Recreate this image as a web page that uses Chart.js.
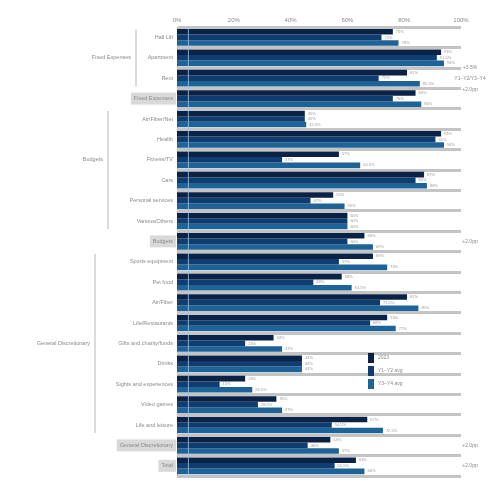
<!DOCTYPE html>
<html><head><meta charset="utf-8">
<script src="https://cdn.jsdelivr.net/npm/chart.js@4"></script>
<style>html,body{margin:0;padding:0;background:#fff}#wrap{width:500px;height:500px}</style>
</head><body><div id="wrap"><canvas id="c" width="500" height="500"></canvas></div>
<script>
const categories = ["Hall Lift","Apartment","Rent","Fixed Expenses","Air/Fiber/Net","Health","Fitness/TV","Cars","Personal services","Various/Others","Budgets","Sports equipment","Pet food","Air/Fiber","Life/Restaurants","Gifts and charity/funds","Drinks","Sights and experiences","Video games","Life and leisure","General Discretionary","Total"];
const seriesNames = ["2023","Y1–Y2 avg","Y3–Y4 avg"];
const series1 = [76,93,81,84,45,93,57,87,55,60,66,69,58,81,74,34,44,24,35,67,54,63];
const series2 = [72,91.5,71,76,45,91,37,84,47,60,60,57,48,71.5,68,24,44,15,28.5,54.5,46,55.5];
const series3 = [78,94,85.5,86,45.5,94,64.5,88,59,60,69,74,61.5,85,77,37,44,26.5,37,72.5,57,66];
const totalRows = [3,10,20,21];
const groups = [
  {label:"Fixed Expenses", from:0, to:2, lineX:136, labelRow:1},
  {label:"Budgets", from:4, to:9, lineX:108, labelRow:6},
  {label:"General Discretionary", from:11, to:19, lineX:95, labelRow:15}
];
const sideNotes = [
  {row:2, lines:["+3.5%","Y1–Y2/Y3–Y4","+2.0pp"]},
  {row:10, lines:["+2.0pp"]},
  {row:20, lines:["+2.0pp"]},
  {row:21, lines:["+2.0pp"]}
];
const colors = ["#0a2246","#0f3d6f","#1e6398"];
const FONT = "Liberation Sans, Arial, sans-serif";

const sidePlugin = {
  id:'side',
  beforeDraw(chart){
    const ctx = chart.ctx, y = chart.scales.y;
    ctx.save();
    ctx.font = "5.5px " + FONT;
    totalRows.forEach(i=>{
      const w = ctx.measureText(categories[i]).width;
      const py = y.getPixelForValue(i);
      ctx.fillStyle = "#d9d9d9";
      ctx.fillRect(173 - w - 3, py - 6, w + 6, 12);
    });
    ctx.restore();
  },
  afterDraw(chart){
    const ctx = chart.ctx, y = chart.scales.y, x = chart.scales.x;
    ctx.save();
    ctx.strokeStyle = "rgba(160,200,235,0.8)";
    ctx.lineWidth = 1;
    const rx = x.getPixelForValue(4);
    ctx.beginPath(); ctx.moveTo(rx, chart.chartArea.top); ctx.lineTo(rx, chart.chartArea.bottom); ctx.stroke();
    ctx.strokeStyle = "#cfcfcf"; ctx.lineWidth = 1.5;
    ctx.fillStyle = "#8a8a8a"; ctx.font = "5.5px " + FONT;
    ctx.textAlign = "right"; ctx.textBaseline = "middle";
    groups.forEach(g=>{
      const t = y.getPixelForValue(g.from) - 8, b = y.getPixelForValue(g.to) + 8;
      ctx.beginPath(); ctx.moveTo(g.lineX, t); ctx.lineTo(g.lineX, b); ctx.stroke();
      ctx.fillText(g.label, g.lineX - 5, y.getPixelForValue(g.labelRow));
    });
    ctx.font = "4px " + FONT; ctx.textAlign = "left"; ctx.fillStyle = "#9a9a9a";
    chart.data.datasets.forEach((ds, di)=>{
      chart.getDatasetMeta(di).data.forEach((bar, i)=>{
        ctx.fillText(ds.data[i] + "%", bar.x + 3, bar.y);
      });
    });
    ctx.font = "5px " + FONT; ctx.textAlign = "center"; ctx.fillStyle = "#8a8a8a";
    sideNotes.forEach(n=>{
      const py = y.getPixelForValue(n.row);
      const start = py - (n.lines.length - 1) * 5.5;
      n.lines.forEach((l, k)=> ctx.fillText(l, 470, start + k * 11));
    });
    ctx.textAlign = "left"; ctx.font = "5px " + FONT;
    seriesNames.forEach((s, k)=>{
      const ly = 358 + k * 13;
      ctx.fillStyle = colors[k]; ctx.fillRect(368, ly - 5, 6, 10);
      ctx.fillStyle = "#8a8a8a"; ctx.fillText(s, 378, ly);
    });
    ctx.restore();
  }
};

new Chart(document.getElementById('c'), {
  type:'bar',
  data:{
    labels: categories,
    datasets: [series1, series2, series3].map((d, k)=>({
      label: seriesNames[k], data: d, backgroundColor: colors[k],
      barPercentage: 1, categoryPercentage: 0.82, borderWidth: 0
    }))
  },
  options:{
    indexAxis:'y', responsive:false, animation:false,
    layout:{padding:{left:0, right:39, top:14, bottom:24}},
    plugins:{legend:{display:false}, tooltip:{enabled:false}},
    scales:{
      x:{position:'top', min:0, max:100,
        ticks:{stepSize:20, callback:v=>v+'%', color:'#8a8a8a', font:{size:6, family:FONT}, padding:3},
        grid:{display:false, drawTicks:false},
        border:{display:false}},
      y:{
        afterFit(s){ s.width = 177; },
        ticks:{color:'#8a8a8a', font:{size:5.5, family:FONT}, padding:4, autoSkip:false},
        grid:{color:'#c4c4c4', lineWidth:3, drawTicks:false, offset:true},
        border:{display:true, color:'#c4c4c4', width:1}
      }
    }
  },
  plugins:[sidePlugin]
});
</script></body></html>
